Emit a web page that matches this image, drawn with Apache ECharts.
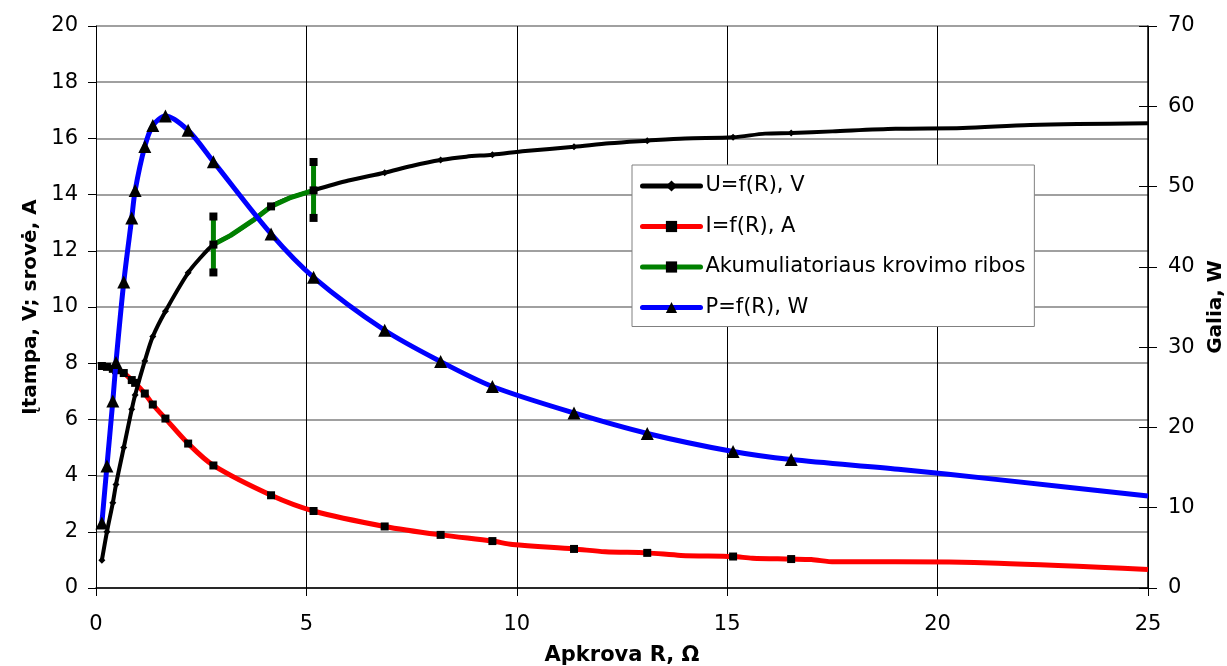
<!DOCTYPE html>
<html>
<head>
<meta charset="utf-8">
<script src="https://cdn.jsdelivr.net/npm/echarts@6/dist/echarts.min.js"></script>
<style>
  html, body { margin: 0; padding: 0; background: #fff; overflow: hidden; }
  #chart { width: 1227px; height: 666px; }
</style>
</head>
<body>
<div id="chart"></div>
<script>
// Measured points (load resistance R, Ω) carrying markers
const resistance = [0.14, 0.26, 0.40, 0.475, 0.66, 0.85, 0.93, 1.16, 1.35, 1.65, 2.19, 2.79, 4.16, 5.17, 6.86, 8.19, 9.42, 11.36, 13.1, 15.14, 16.52];
const voltage    = [0.99, 2.0, 3.03, 3.68, 5.0, 6.36, 6.87, 8.08, 8.95, 9.85, 11.22, 12.22, 13.58, 14.15, 14.78, 15.23, 15.42, 15.70, 15.92, 16.04, 16.19];
const current    = [7.90, 7.87, 7.80, 7.75, 7.65, 7.40, 7.30, 6.92, 6.53, 6.03, 5.14, 4.36, 3.30, 2.74, 2.19, 1.89, 1.67, 1.39, 1.25, 1.12, 1.03];
const power      = [8.1, 15.2, 23.3, 28.1, 38.1, 46.1, 49.5, 55.0, 57.6, 58.8, 57.0, 53.1, 44.1, 38.7, 32.1, 28.2, 25.1, 21.8, 19.25, 17.0, 16.0];

// Intermediate trace points without markers [R, value]
const voltageTrace = [[2.45, 11.7], [3.2, 12.55], [3.73, 13.08], [4.6, 13.88], [6.0, 14.5], [7.5, 15.02], [8.8, 15.35], [10.2, 15.55], [12.2, 15.83], [14.0, 16.0], [15.9, 16.17], [17.5, 16.25], [19.0, 16.34], [20.6, 16.37], [22.2, 16.48], [25, 16.54]];
const currentTrace = [[9.9, 1.55], [12.1, 1.29], [13.9, 1.16], [15.6, 1.06], [17.0, 1.01], [17.55, 0.93], [19.0, 0.93], [21.44, 0.88], [25, 0.66]];
const powerTrace   = [[19.07, 14.8], [21.44, 13.5], [25, 11.46]];

// Battery charging limits: [R, lower U, upper U]
const chargeStart = [2.79, 11.23, 13.22];
const chargeEnd   = [5.17, 13.17, 15.16];

// Axis ranges
const xTicks = { min: 0, max: 25, interval: 5 };
const leftTicks = { min: 0, max: 20, interval: 2 };
const rightTicks = { min: 0, max: 70, interval: 10 };

const FONT = 'DejaVu Sans';

function mergePoints(xs, ys, trace) {
  const pts = xs.map((x, i) => ({ value: [x, ys[i]] }));
  trace.forEach(p => pts.push({ value: p, symbol: 'none' }));
  pts.sort((a, b) => a.value[0] - b.value[0]);
  return pts;
}

const voltageData = mergePoints(resistance, voltage, voltageTrace);
const currentData = mergePoints(resistance, current, currentTrace);
const powerData = mergePoints(resistance, power, powerTrace);

// Charging window: bar at start, the U curve between limits, bar at end
const chargeData = [
  { value: [chargeStart[0], chargeStart[2]] },
  { value: [chargeStart[0], chargeStart[1]] }
].concat(
  voltageData.filter(p => p.value[0] >= chargeStart[0] && p.value[0] <= chargeEnd[0])
    .map(p => ({ value: p.value.slice(), symbol: p.symbol }))
).concat([
  { value: [chargeEnd[0], chargeEnd[2]] },
  { value: [chargeEnd[0], chargeEnd[1]] }
]);

const chart = echarts.init(document.getElementById('chart'), null, { renderer: 'canvas', width: 1227, height: 666 });

const labelStyle = { fontFamily: FONT, fontSize: 21, color: '#000' };
const nameStyle = { fontFamily: FONT, fontSize: 20, fontWeight: 'bold', color: '#000' };

chart.setOption({
  animation: false,
  backgroundColor: '#fff',
  grid: { left: 96, right: 79, top: 26, bottom: 78, containLabel: false, outerBoundsMode: 'none' },
  legend: {
    orient: 'vertical',
    left: 632,
    top: 165,
    padding: [9, 9, 7, 8],
    itemGap: 16.5,
    itemWidth: 58,
    itemHeight: 14,
    backgroundColor: '#fff',
    borderColor: '#808080',
    borderWidth: 1,
    borderRadius: 0,
    selectedMode: false,
    lineStyle: { width: 5, cap: 'round' },
    textStyle: { fontFamily: FONT, fontSize: 21, color: '#000', lineHeight: 24 },
    data: ['U=f(R), V', 'I=f(R), A', 'Akumuliatoriaus krovimo ribos', 'P=f(R), W']
  },
  xAxis: {
    type: 'value',
    min: xTicks.min, max: xTicks.max, interval: xTicks.interval,
    name: 'Apkrova R, Ω',
    nameLocation: 'middle',
    nameGap: 57,
    nameTextStyle: Object.assign({}, nameStyle, { fontSize: 21 }),
    axisLine: { show: true, onZero: false, lineStyle: { color: '#000', width: 1.5 } },
    axisTick: { show: true, length: 8, lineStyle: { color: '#000', width: 1 } },
    axisLabel: Object.assign({ margin: 26 }, labelStyle),
    splitLine: { show: true, lineStyle: { color: '#000', width: 1 } }
  },
  yAxis: [
    {
      type: 'value', position: 'left',
      min: leftTicks.min, max: leftTicks.max, interval: leftTicks.interval,
      name: 'Įtampa, V; srovė, A',
      nameLocation: 'middle',
      nameRotate: 90,
      nameGap: 43,
      nameTextStyle: nameStyle,
      axisLine: { show: true, onZero: false, lineStyle: { color: '#000', width: 1 } },
      axisTick: { show: true, length: 8, lineStyle: { color: '#000', width: 1 } },
      axisLabel: Object.assign({ margin: 18 }, labelStyle),
      splitLine: { show: true, lineStyle: { color: '#808080', width: 1.5 } }
    },
    {
      type: 'value', position: 'right',
      min: rightTicks.min, max: rightTicks.max, interval: rightTicks.interval,
      name: 'Galia, W',
      nameLocation: 'middle',
      nameRotate: 90,
      nameGap: 54,
      nameTextStyle: nameStyle,
      axisLine: { show: true, onZero: false, lineStyle: { color: '#000', width: 1.5 } },
      axisTick: { show: true, length: 9, lineStyle: { color: '#000', width: 1 } },
      axisLabel: Object.assign({ margin: 20 }, labelStyle),
      splitLine: { show: false }
    },
    {
      // inner half of the crossing ticks on the power axis
      type: 'value', position: 'right',
      min: rightTicks.min, max: rightTicks.max, interval: rightTicks.interval,
      axisLine: { show: false, onZero: false },
      axisTick: { show: true, inside: true, length: 9, lineStyle: { color: '#000', width: 1 } },
      axisLabel: { show: false },
      splitLine: { show: false }
    }
  ],
  series: [
    {
      name: 'U=f(R), V',
      type: 'line',
      yAxisIndex: 0,
      data: voltageData,
      smooth: 0.3,
      symbol: 'diamond',
      symbolSize: 7,
      itemStyle: { color: '#000' },
      lineStyle: { color: '#000', width: 4 },
      z: 3
    },
    {
      name: 'I=f(R), A',
      type: 'line',
      yAxisIndex: 0,
      data: currentData,
      smooth: 0.3,
      symbol: 'rect',
      symbolSize: 8,
      itemStyle: { color: '#000' },
      lineStyle: { color: '#ff0000', width: 5 },
      z: 2
    },
    {
      name: 'Akumuliatoriaus krovimo ribos',
      type: 'line',
      yAxisIndex: 0,
      data: chargeData,
      smooth: false,
      symbol: 'rect',
      symbolSize: 8,
      itemStyle: { color: '#000' },
      lineStyle: { color: '#008000', width: 5, join: 'round' },
      z: 4
    },
    {
      name: 'P=f(R), W',
      type: 'line',
      yAxisIndex: 1,
      data: powerData,
      smooth: 0.3,
      symbol: 'triangle',
      symbolSize: 13,
      itemStyle: { color: '#000' },
      lineStyle: { color: '#0000ff', width: 5 },
      z: 5
    }
  ]
});
</script>
</body>
</html>
